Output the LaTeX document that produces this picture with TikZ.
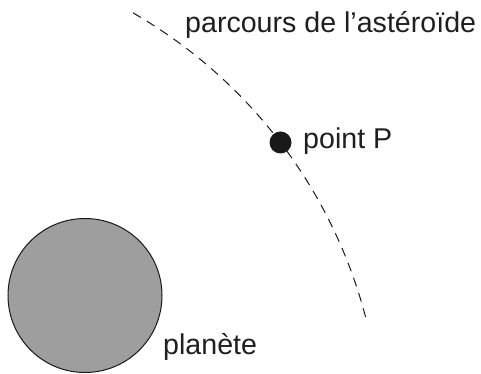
\documentclass[tikz,border=0pt]{standalone}
\usepackage{fontspec}
\setmainfont{Liberation Sans}
\begin{document}
\begin{tikzpicture}[x=1pt,y=1pt,
  lbl/.style={anchor=base west,inner sep=0pt,font=\fontsize{28.6}{32}\selectfont,text=black!88},
  planetstyle/.style={circle,draw=black!90,line width=1pt,fill=black!38,minimum size=154pt,inner sep=0pt},
  ptstyle/.style={circle,fill=black!90,minimum size=22pt,inner sep=0pt},
  path/.style={draw=black!90,line width=1pt,dash pattern=on 9pt off 7pt}]
\useasboundingbox (0,0) rectangle (481,374);
\draw[path] (-114.2,-68.9) ++(60.1:496) arc[start angle=60.1,end angle=14.0,radius=496];
\node[planetstyle] (planet) at (85,78.5) {};
\node[ptstyle] (P) at (280.5,231.5) {};
\node[lbl] (lplanet) at (163,19.5) {planète};
\node[lbl] (lP) at (303,225) {point P};
\node[lbl] (lpath) at (185,341) {parcours de l’astéroïde};
\end{tikzpicture}
\end{document}
